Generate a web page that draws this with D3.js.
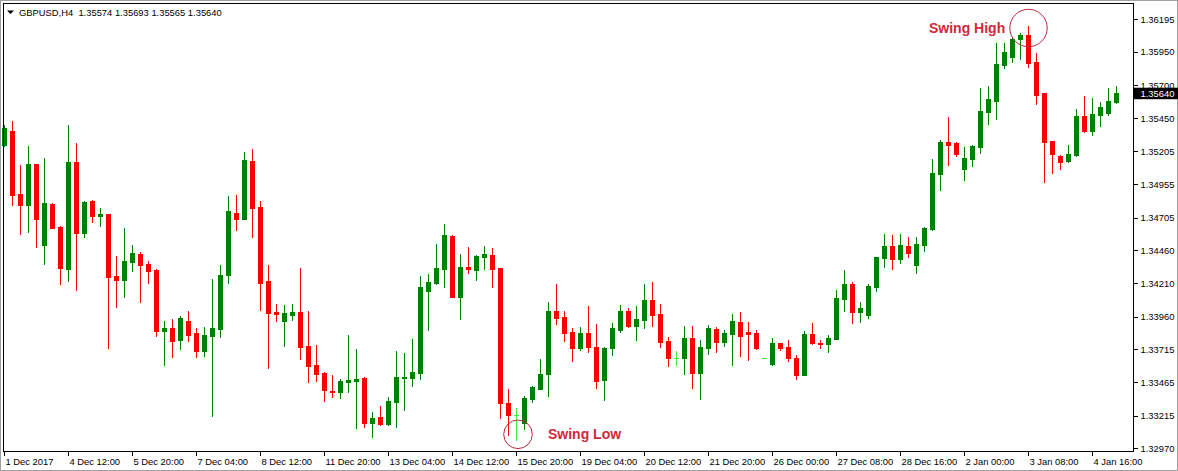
<!DOCTYPE html>
<html>
<head>
<meta charset="utf-8">
<script src="https://cdn.jsdelivr.net/npm/d3@7/dist/d3.min.js"></script>
<style>
  html, body { margin: 0; padding: 0; background: #fff; }
  svg { display: block; }
  text { font-family: "Liberation Sans", Arial, sans-serif; }
</style>
</head>
<body>
<svg id="chart" width="1178" height="471"></svg>
<script>
// ---------- DATA (GBPUSD, H4) ----------
const symbolTitle = "GBPUSD,H4";
const lastQuote = ["1.35574", "1.35693", "1.35565", "1.35640"];

const open = [
1.35250,1.35355,1.34882,1.34799,1.35108,1.34498,1.34807,1.34637,1.34318,1.35123,
1.34591,1.34832,1.34719,1.34732,1.34266,1.34235,1.34373,1.34431,1.34356,1.34311,
1.33854,1.33875,1.33784,1.33927,1.33836,1.33704,1.33816,1.33870,1.34276,1.34739,
1.34697,1.35130,1.34784,1.34227,1.33995,1.33930,1.33975,1.33995,1.33741,1.33596,
1.33539,1.33403,1.33393,1.33470,1.33478,1.33499,1.33163,1.33205,1.33153,1.33320,
1.33499,1.33501,1.33539,1.34152,1.34215,1.34318,1.34568,1.34110,1.34333,1.34311,
1.34411,1.34423,1.34326,1.33313,1.33223,1.33163,1.33343,1.33418,1.33531,1.34002,
1.33957,1.33844,1.33726,1.33836,1.33731,1.33486,1.33726,1.33859,1.34002,1.33890,
1.33937,1.34085,1.33980,1.33779,1.33651,1.33651,1.33799,1.33539,1.33726,1.33867,
1.33771,1.33831,1.33920,1.33846,1.33836,1.33647,1.33606,1.33761,1.33731,1.33649,
1.33524,1.33829,1.33764,1.33756,1.33794,1.34095,1.34205,1.33997,1.33972,1.34185,
1.34403,1.34491,1.34396,1.34491,1.34348,1.34498,1.34617,1.35035,1.35273,1.35263,
1.35070,1.35145,1.35235,1.35501,1.35584,1.35852,1.35912,1.36045,1.36077,1.35875,
1.35639,1.35278,1.35170,1.35130,1.35175,1.35469,1.35358,1.35479,1.35494,1.35574];

const high = [
1.35401,1.35431,1.35100,1.35243,1.35108,1.35151,1.34812,1.34642,1.35401,1.35268,
1.34829,1.34837,1.34775,1.34732,1.34416,1.34629,1.34498,1.34444,1.34378,1.34316,
1.33927,1.33942,1.33965,1.34002,1.33873,1.33880,1.34243,1.34348,1.34867,1.34874,
1.35198,1.35220,1.34829,1.34348,1.34055,1.34047,1.34055,1.34326,1.34002,1.33746,
1.33544,1.33521,1.33491,1.33821,1.33716,1.33506,1.33243,1.33288,1.33355,1.33701,
1.33686,1.33791,1.34266,1.34281,1.34508,1.34657,1.34573,1.34431,1.34483,1.34423,
1.34491,1.34476,1.34328,1.33415,1.33273,1.33363,1.33438,1.33641,1.34070,1.34205,
1.34002,1.33875,1.33882,1.34040,1.33905,1.33731,1.33912,1.34047,1.34025,1.34040,
1.34207,1.34220,1.34057,1.33806,1.33701,1.33890,1.33890,1.33784,1.33897,1.33882,
1.33859,1.33980,1.33995,1.33920,1.33859,1.33647,1.33799,1.33764,1.33786,1.33671,
1.33854,1.33912,1.33786,1.33821,1.34160,1.34311,1.34220,1.34068,1.34203,1.34411,
1.34581,1.34573,1.34581,1.34558,1.34558,1.34634,1.35145,1.35288,1.35461,1.35273,
1.35235,1.35250,1.35679,1.35694,1.36017,1.36017,1.36062,1.36090,1.36146,1.35942,
1.35641,1.35283,1.35178,1.35250,1.35524,1.35619,1.35604,1.35576,1.35679,1.35693];

const low = [
1.35243,1.34799,1.34581,1.34598,1.34486,1.34356,1.34629,1.34205,1.34230,1.34160,
1.34561,1.34674,1.34642,1.33726,1.34035,1.34110,1.34303,1.34072,1.34210,1.33816,
1.33596,1.33659,1.33716,1.33779,1.33659,1.33664,1.33215,1.33809,1.34215,1.34611,
1.34697,1.34561,1.34010,1.33576,1.33930,1.33739,1.33937,1.33639,1.33470,1.33475,
1.33328,1.33358,1.33350,1.33395,1.33125,1.33133,1.33057,1.33145,1.33148,1.33133,
1.33260,1.33440,1.33494,1.33859,1.34205,1.34185,1.34105,1.33940,1.34291,1.34235,
1.34318,1.34185,1.33200,1.33069,1.33032,1.33118,1.33318,1.33418,1.33365,1.33907,
1.33779,1.33629,1.33711,1.33696,1.33425,1.33335,1.33674,1.33846,1.33885,1.33786,
1.33877,1.33892,1.33734,1.33591,1.33599,1.33531,1.33425,1.33343,1.33681,1.33696,
1.33741,1.33599,1.33666,1.33636,1.33719,1.33647,1.33599,1.33711,1.33629,1.33494,
1.33524,1.33754,1.33726,1.33696,1.33794,1.34005,1.33915,1.33922,1.33952,1.34155,
1.34336,1.34321,1.34366,1.34411,1.34291,1.34456,1.34611,1.34914,1.35103,1.35170,
1.34990,1.35095,1.35193,1.35411,1.35444,1.35830,1.35875,1.35897,1.35840,1.35561,
1.34974,1.35043,1.35073,1.35125,1.35170,1.35350,1.35328,1.35396,1.35476,1.35565];

const close = [
1.35379,1.34874,1.34799,1.35108,1.34692,1.34812,1.34629,1.34328,1.35123,1.34591,
1.34822,1.34719,1.34730,1.34261,1.34235,1.34378,1.34438,1.34348,1.34306,1.33854,
1.33875,1.33779,1.33950,1.33821,1.33704,1.33821,1.33875,1.34273,1.34754,1.34697,
1.35138,1.34779,1.34215,1.33990,1.33982,1.33990,1.33995,1.33734,1.33591,1.33531,
1.33408,1.33393,1.33475,1.33486,1.33491,1.33163,1.33198,1.33153,1.33325,1.33506,
1.33506,1.33544,1.34182,1.34220,1.34326,1.34573,1.34105,1.34333,1.34318,1.34416,
1.34431,1.34318,1.33313,1.33223,1.33223,1.33348,1.33430,1.33531,1.34002,1.33952,
1.33839,1.33726,1.33836,1.33734,1.33478,1.33726,1.33875,1.34002,1.33890,1.33942,
1.34085,1.33975,1.33771,1.33651,1.33651,1.33799,1.33539,1.33731,1.33875,1.33771,
1.33836,1.33927,1.33816,1.33831,1.33726,1.33647,1.33761,1.33726,1.33651,1.33524,
1.33831,1.33761,1.33756,1.33799,1.34100,1.34205,1.33997,1.34023,1.34190,1.34408,
1.34491,1.34396,1.34498,1.34441,1.34506,1.34627,1.35043,1.35273,1.35253,1.35183,
1.35155,1.35245,1.35506,1.35599,1.35860,1.35950,1.36047,1.36077,1.35870,1.35629,
1.35275,1.35185,1.35125,1.35183,1.35469,1.35358,1.35484,1.35539,1.35584,1.35640];

// time-axis labels, one every 8 bars
const timeLabels = ["1 Dec 2017","4 Dec 12:00","5 Dec 20:00","7 Dec 04:00","8 Dec 12:00",
  "11 Dec 20:00","13 Dec 04:00","14 Dec 12:00","15 Dec 20:00","19 Dec 04:00","20 Dec 12:00",
  "21 Dec 20:00","26 Dec 00:00","27 Dec 08:00","28 Dec 16:00","2 Jan 00:00","3 Jan 08:00","4 Jan 16:00"];
const timeLabelStep = 8;

// price-axis labels
const priceTicks = [1.36195,1.35950,1.35700,1.35450,1.35205,1.34955,1.34705,1.34460,
  1.34210,1.33960,1.33715,1.33465,1.33215,1.32970];
const currentPrice = 1.35640;

// annotations
const swingHighIndex = 128, swingLowIndex = 64;

// ---------- DRAW ----------
const svg = d3.select("#chart");
const W = 1178, H = 471;
const plot = { left: 3, right: 1133, top: 3, bottom: 451 };

const n = open.length;
const x = d3.scaleLinear().domain([0, n - 1]).range([4.5, 4.5 + 8 * (n - 1)]);
const y = d3.scaleLinear().domain([1.32970, 1.36195]).range([448.3, 19.4]);

const bars = d3.range(n).map(i => ({ i, o: open[i], h: high[i], l: low[i], c: close[i] }));
const UP = "#008000", DOWN = "#ff0000", DOJI = "#3cf03c";
const col = d => d.c > d.o ? UP : (d.c < d.o ? DOWN : DOJI);

// outer window frame
svg.append("rect").attr("x", 0.5).attr("y", 0.5).attr("width", W - 1).attr("height", H - 1)
  .attr("fill", "none").attr("stroke", "#a0a0a0");

const g = svg.append("g");

// wicks
g.selectAll("line.wick").data(bars).join("line")
  .attr("class", "wick")
  .attr("x1", d => x(d.i)).attr("x2", d => x(d.i))
  .attr("y1", d => Math.round(y(d.h)))
  .attr("y2", d => Math.round(y(d.l)) + 1)
  .attr("stroke", col).attr("stroke-width", 1)
  .attr("shape-rendering", "crispEdges");

// bodies (non-doji)
g.selectAll("rect.body").data(bars.filter(d => d.o !== d.c)).join("rect")
  .attr("class", "body")
  .attr("x", d => x(d.i) - 2.5)
  .attr("width", 5)
  .attr("y", d => Math.round(y(Math.max(d.o, d.c))))
  .attr("height", d => Math.max(1, Math.round(y(Math.min(d.o, d.c))) - Math.round(y(Math.max(d.o, d.c))) + 1))
  .attr("fill", col)
  .attr("shape-rendering", "crispEdges");

// doji crosses
g.selectAll("line.doji").data(bars.filter(d => d.o === d.c)).join("line")
  .attr("class", "doji")
  .attr("x1", d => x(d.i) - 2.5).attr("x2", d => x(d.i) + 2.5)
  .attr("y1", d => Math.round(y(d.o)) + 0.5).attr("y2", d => Math.round(y(d.o)) + 0.5)
  .attr("stroke", DOJI).attr("stroke-width", 1)
  .attr("shape-rendering", "crispEdges");

// chart frame
svg.append("rect")
  .attr("x", plot.left + 0.5).attr("y", plot.top + 0.5)
  .attr("width", plot.right - plot.left).attr("height", plot.bottom - plot.top)
  .attr("fill", "none").attr("stroke", "#000").attr("shape-rendering", "crispEdges");

// price axis (right)
const yAxis = d3.axisRight(y).tickValues(priceTicks).tickFormat(d3.format(".5f"))
  .tickSize(4).tickPadding(3);
const ya = svg.append("g").attr("transform", `translate(${plot.right + 0.5},0)`).call(yAxis);
ya.select(".domain").remove();
ya.selectAll(".tick line").attr("stroke", "#000").attr("shape-rendering", "crispEdges");
ya.selectAll(".tick text").attr("fill", "#000").style("font-size", "9.4px")
  .style("font-family", '"Liberation Sans", Arial, sans-serif');

// current price box
const cpY = y(currentPrice);
svg.append("rect").attr("x", plot.right + 1).attr("y", cpY - 5.5).attr("width", W - plot.right - 1)
  .attr("height", 11.5).attr("fill", "#000");
svg.append("text").attr("x", plot.right + 7.5).attr("y", cpY + 3.5)
  .attr("fill", "#fff").style("font-size", "9.4px").text(d3.format(".5f")(currentPrice));

// time axis (bottom)
const tickIdx = timeLabels.map((_, k) => k * timeLabelStep);
const xAxis = d3.axisBottom(x).tickValues(tickIdx)
  .tickFormat((d, k) => timeLabels[k]).tickSize(4).tickPadding(3);
const xa = svg.append("g").attr("transform", `translate(-0.5,${plot.bottom + 0.5})`).call(xAxis);
xa.select(".domain").remove();
xa.selectAll(".tick line").attr("stroke", "#000").attr("shape-rendering", "crispEdges");
xa.selectAll(".tick text").attr("fill", "#000").attr("text-anchor", "start").attr("dx", 1)
  .style("font-size", "9.4px").style("font-family", '"Liberation Sans", Arial, sans-serif');

// header
svg.append("path").attr("d", "M7,10.5 L14,10.5 L10.5,14 Z").attr("fill", "#000");
svg.append("text").attr("x", 19).attr("y", 15.5).attr("fill", "#000")
  .style("font-size", "9.4px").attr("xml:space", "preserve")
  .text(symbolTitle + "  " + lastQuote.join(" "));

// annotations
const annColor = "#d0283c";
svg.append("circle").attr("cx", x(swingHighIndex)).attr("cy", 28).attr("r", 18.7)
  .attr("fill", "none").attr("stroke", "#b8283e").attr("stroke-width", 1);
svg.append("text").attr("x", 929).attr("y", 32.5).attr("fill", annColor)
  .style("font-size", "14px").style("font-weight", "bold").text("Swing High");
svg.append("circle").attr("cx", x(swingLowIndex) + 1.5).attr("cy", 434.3).attr("r", 14.3)
  .attr("fill", "none").attr("stroke", "#b8283e").attr("stroke-width", 1);
svg.append("text").attr("x", 548).attr("y", 439).attr("fill", annColor)
  .style("font-size", "14px").style("font-weight", "bold").text("Swing Low");
</script>
</body>
</html>
